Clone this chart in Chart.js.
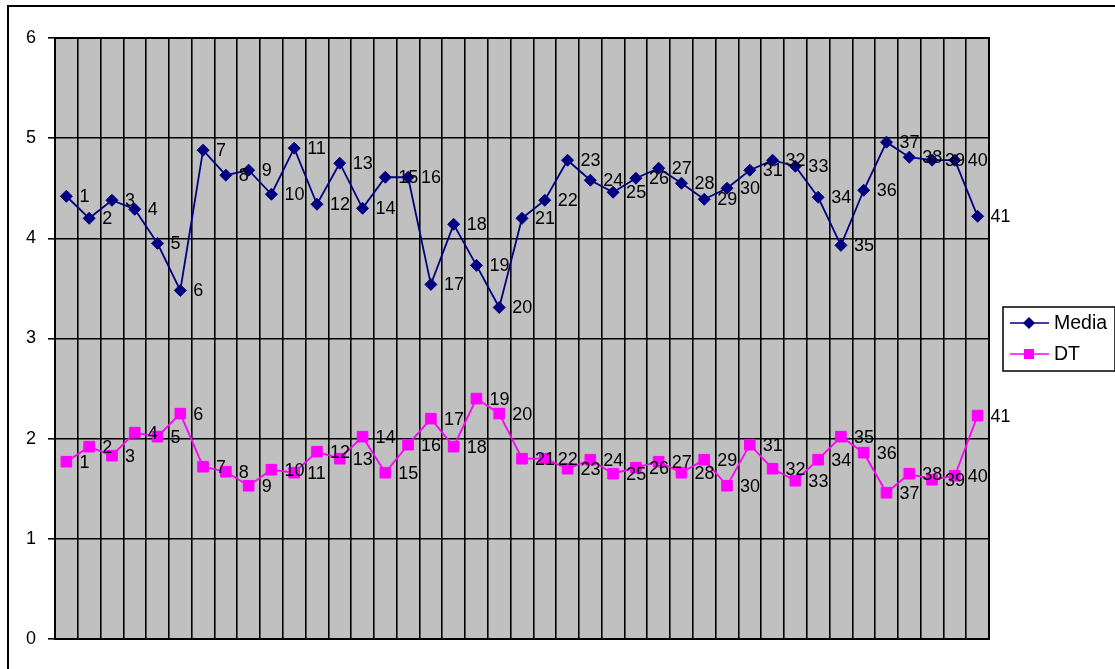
<!DOCTYPE html>
<html><head><meta charset="utf-8">
<script src="https://cdn.jsdelivr.net/npm/chart.js@4.4.0/dist/chart.umd.min.js"></script>
<style>html,body{margin:0;padding:0;background:#fff;overflow:hidden}</style>
</head><body>
<canvas id="c" width="1115" height="669"></canvas>
<script>
const categories = ['1','2','3','4','5','6','7','8','9','10','11','12','13','14','15','16','17','18','19','20','21','22','23','24','25','26','27','28','29','30','31','32','33','34','35','36','37','38','39','40','41'];
const mediaValues = [4.42,4.20,4.38,4.29,3.95,3.48,4.88,4.63,4.68,4.44,4.90,4.34,4.75,4.30,4.61,4.61,3.54,4.14,3.73,3.31,4.20,4.38,4.78,4.58,4.46,4.60,4.70,4.55,4.39,4.50,4.68,4.78,4.72,4.41,3.93,4.48,4.96,4.81,4.78,4.78,4.22];
const dtValues = [1.77,1.92,1.83,2.06,2.02,2.25,1.72,1.67,1.53,1.69,1.66,1.87,1.80,2.02,1.66,1.94,2.20,1.92,2.40,2.25,1.80,1.80,1.70,1.79,1.65,1.71,1.77,1.66,1.79,1.53,1.94,1.70,1.58,1.79,2.02,1.86,1.46,1.65,1.59,1.63,2.23];
const yTicks = [0,1,2,3,4,5,6];
const seriesNames = ['Media','DT'];

const FONT = "'Liberation Sans', Arial, sans-serif";

const decor = {
  id: 'decor',
  beforeDraw(chart) {
    const ctx = chart.ctx, a = chart.chartArea;
    ctx.save();
    ctx.fillStyle = '#ffffff';
    ctx.fillRect(0, 0, chart.width, chart.height);
    ctx.strokeStyle = '#000';
    ctx.lineWidth = 2;
    ctx.strokeRect(8, 6, chart.width + 10, chart.height + 10);
    ctx.fillStyle = '#C0C0C0';
    ctx.fillRect(a.left, a.top, a.right - a.left, a.bottom - a.top);
    ctx.restore();
  },
  beforeDatasetsDraw(chart) {
    const ctx = chart.ctx, a = chart.chartArea;
    ctx.save();
    ctx.strokeStyle = '#000';
    ctx.lineWidth = 2;
    ctx.strokeRect(a.left, a.top, a.right - a.left, a.bottom - a.top);
    ctx.restore();
  },
  afterDatasetsDraw(chart) {
    const ctx = chart.ctx;
    ctx.save();
    ctx.font = '18px ' + FONT;
    ctx.fillStyle = '#000';
    ctx.textAlign = 'left';
    ctx.textBaseline = 'middle';
    chart.data.datasets.forEach((ds, i) => {
      const meta = chart.getDatasetMeta(i);
      meta.data.forEach((pt, j) => {
        ctx.fillText(chart.data.labels[j], pt.x + 13, pt.y + 1);
      });
    });
    // legend
    const lx = 1003, ly = 307, lw = 112, lh = 64;
    ctx.fillStyle = '#fff';
    ctx.fillRect(lx, ly, lw, lh);
    ctx.strokeStyle = '#000';
    ctx.lineWidth = 1.5;
    ctx.strokeRect(lx, ly, lw, lh);
    const rows = [323, 354];
    ctx.font = '19.5px ' + FONT;
    chart.data.datasets.forEach((ds, i) => {
      const y = rows[i];
      ctx.strokeStyle = ds.borderColor;
      ctx.fillStyle = ds.borderColor;
      ctx.lineWidth = 1.5;
      ctx.beginPath();
      ctx.moveTo(1010, y);
      ctx.lineTo(1049, y);
      ctx.stroke();
      Chart.helpers.drawPoint(ctx, {pointStyle: ds.pointStyle, radius: ds.pointStyle === 'rect' ? 6 : 5, rotation: 0, borderWidth: 1}, 1029, y);
      ctx.fillStyle = '#000';
      ctx.fillText(ds.label, 1054, y + 1);
    });
    ctx.restore();
  }
};

new Chart(document.getElementById('c'), {
  type: 'line',
  data: {
    labels: categories,
    datasets: [
      {label: seriesNames[0], data: mediaValues, borderColor: '#000080', backgroundColor: '#000080', borderWidth: 1.8, pointStyle: 'rectRot', pointRadius: 6, pointBorderWidth: 1, tension: 0},
      {label: seriesNames[1], data: dtValues, borderColor: '#FF00FF', backgroundColor: '#FF00FF', borderWidth: 1.8, pointStyle: 'rect', pointRadius: 7.5, pointBorderWidth: 1, tension: 0}
    ]
  },
  options: {
    responsive: false,
    animation: false,
    devicePixelRatio: 1,
    layout: {padding: {left: 0, top: 38, right: 126, bottom: 30}},
    plugins: {legend: {display: false}, tooltip: {enabled: false}},
    scales: {
      x: {
        type: 'category',
        offset: true,
        grid: {offset: true, color: '#000', lineWidth: 1.6, drawTicks: false},
        border: {display: true, color: '#000', width: 2},
        ticks: {display: false},
        afterFit(s) { s.height = 0; }
      },
      y: {
        min: 0, max: 6,
        afterBuildTicks(s) { s.ticks = yTicks.map(v => ({value: v})); },
        grid: {color: '#000', lineWidth: 1.6, tickLength: 7, drawTicks: true},
        border: {display: true, color: '#000', width: 2},
        ticks: {color: '#000', font: {family: FONT, size: 18}, padding: 12},
        afterFit(s) { s.width = 55; }
      }
    }
  },
  plugins: [decor]
});
</script>
</body></html>
